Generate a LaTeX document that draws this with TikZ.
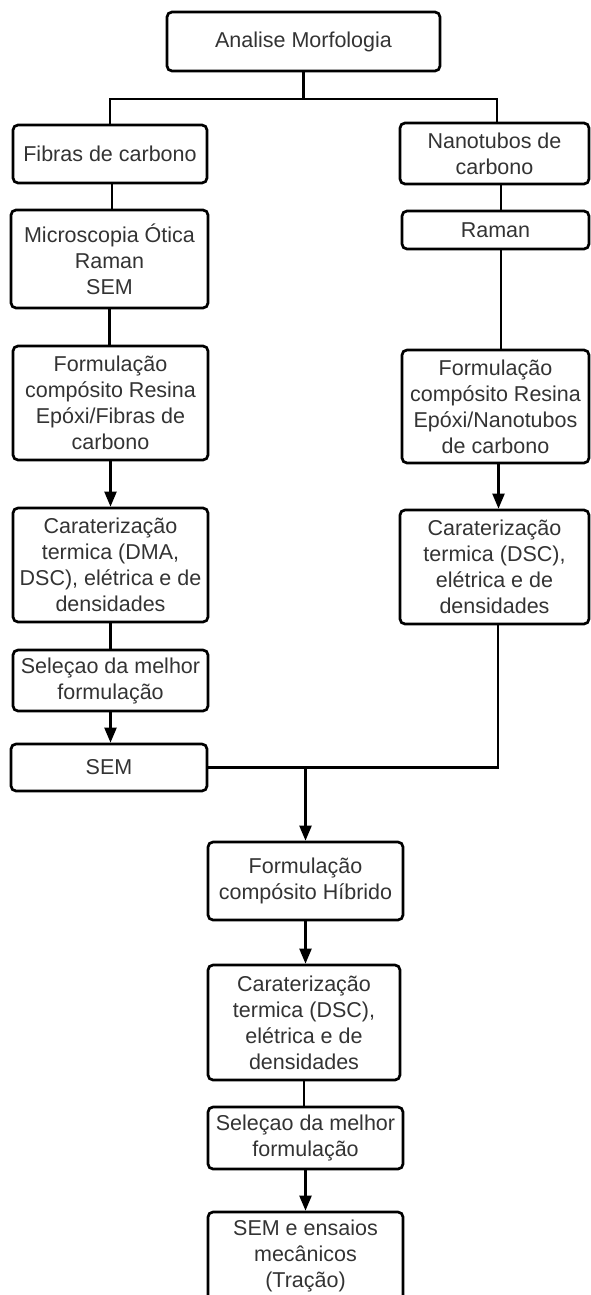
\documentclass[tikz,border=0pt]{standalone}
\usepackage{fontspec}
\setmainfont{Liberation Sans}
\usetikzlibrary{arrows.meta}
\definecolor{txt}{HTML}{333333}
\newcommand\boxfont{\fontsize{21.5}{26}\selectfont}
\begin{document}
\begin{tikzpicture}[x=1pt,y=-1pt,
  box/.style={draw, rounded corners=5pt, line width=2.7pt, inner sep=0pt, align=center, font=\boxfont, text=txt, anchor=center},
  ln/.style={line width=2.2pt},
  arr/.style={line width=2.2pt, -{Triangle[length=15pt,width=12pt]}}]
\useasboundingbox (0,0) rectangle (590,1295);
\node[box, minimum width=273pt, minimum height=59pt] (A) at (303.5,41.5) {Analise Morfologia};
\node[box, minimum width=194pt, minimum height=58pt] (F) at (110,154) {Fibras de carbono};
\node[box, minimum width=189pt, minimum height=61pt] (N) at (494.5,153.5) {Nanotubos de\\carbono};
\node[box, minimum width=197pt, minimum height=98pt] (M) at (109.5,259) {Microscopia Ótica\\Raman\\SEM};
\node[box, minimum width=187pt, minimum height=38pt] (R) at (495.5,230) {Raman};
\node[box, minimum width=195pt, minimum height=114pt] (LF) at (110.5,403) {Formulação\\compósito Resina\\Epóxi/Fibras de\\carbono};
\node[box, minimum width=187pt, minimum height=113pt] (RF) at (495.5,406.5) {Formulação\\compósito Resina\\Epóxi/Nanotubos\\de carbono};
\node[box, minimum width=195pt, minimum height=114pt] (LC) at (110.5,565) {Caraterização\\termica (DMA,\\DSC), elétrica e de\\densidades};
\node[box, minimum width=189pt, minimum height=114pt] (RC) at (494.5,567) {Caraterização\\termica (DSC),\\elétrica e de\\densidades};
\node[box, minimum width=195pt, minimum height=61pt] (LS) at (110.5,680.5) {Seleçao da melhor\\formulação};
\node[box, minimum width=196pt, minimum height=47pt] (SEM) at (109,767.5) {SEM};
\node[box, minimum width=195pt, minimum height=78pt] (H) at (305.5,881) {Formulação\\compósito Híbrido};
\node[box, minimum width=192pt, minimum height=115pt] (MC) at (304,1022.5) {Caraterização\\termica (DSC),\\elétrica e de\\densidades};
\node[box, minimum width=195pt, minimum height=62pt] (MS) at (305.5,1138) {Seleçao da melhor\\formulação};
\node[box, minimum width=195pt, minimum height=88pt] (E) at (305.5,1256) {SEM e ensaios\\mecânicos\\(Tração)};
\coordinate (J1) at (A.south |- 0,99);
\draw[ln] (A.south) -- (J1);
\draw[ln] (F.north) |- (J1) -| ([xshift=2.5pt]N.north);
\draw[ln] ([xshift=2pt]F.south) -- ([xshift=2pt]F.south |- M.north);
\draw[ln] ([xshift=6.5pt]N.south) -- ([xshift=6.5pt]N.south |- R.north);
\draw[ln] (M.south) -- (M.south |- LF.north);
\draw[ln] ([xshift=5.5pt]R.south) -- ([xshift=5.5pt]R.south |- RF.north);
\draw[arr] (LF.south) -- (LF.south |- LC.north);
\draw[arr] ([xshift=3pt]RF.south) -- ([xshift=3pt]RF.south |- RC.north);
\draw[ln] (LC.south) -- (LC.south |- LS.north);
\draw[arr] (LS.south) -- (LS.south |- SEM.north);
\coordinate (J2) at (H.north |- SEM.east);
\draw[ln] (SEM.east) -| ([xshift=3.5pt]RC.south);
\draw[arr] (J2) -- (H.north);
\draw[arr] (H.south) -- (H.south |- MC.north);
\draw[ln] (MC.south) -- (MC.south |- MS.north);
\draw[arr] (MS.south) -- (MS.south |- E.north);
\end{tikzpicture}
\end{document}
